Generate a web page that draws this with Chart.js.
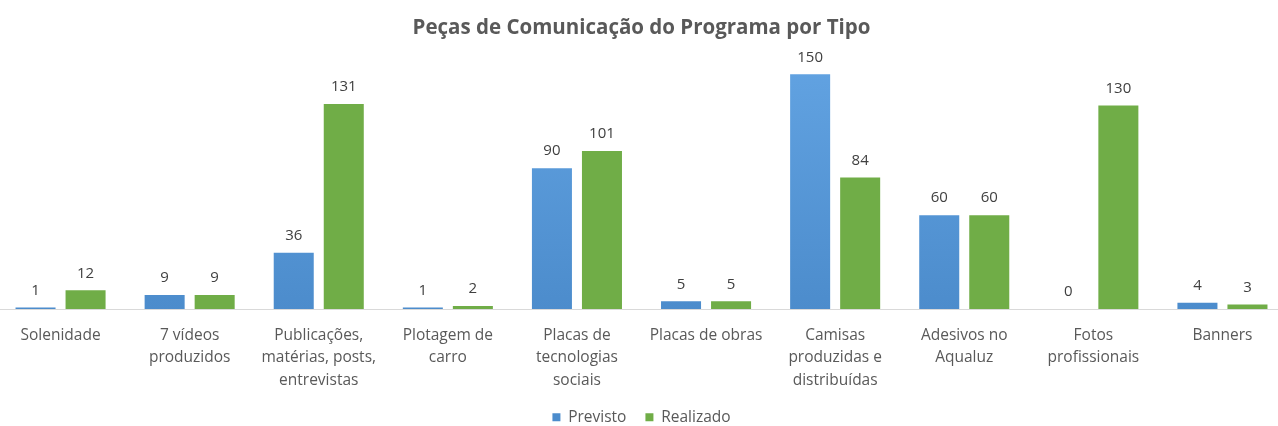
<!DOCTYPE html>
<html>
<head>
<meta charset="utf-8">
<script src="https://cdn.jsdelivr.net/npm/chart.js@4.4.0/dist/chart.umd.min.js"></script>
<style>
  html, body { margin: 0; padding: 0; background: #ffffff; overflow: hidden; }
  #wrap { position: absolute; left: -4px; top: 0; width: 1291px; height: 426px; }
</style>
</head>
<body>
<div id="wrap"><canvas id="chart"></canvas></div>
<script>
const categories = [
  ['Solenidade'],
  ['7 vídeos', 'produzidos'],
  ['Publicações,', 'matérias, posts,', 'entrevistas'],
  ['Plotagem de', 'carro'],
  ['Placas de', 'tecnologias', 'sociais'],
  ['Placas de obras'],
  ['Camisas', 'produzidas e', 'distribuídas'],
  ['Adesivos no', 'Aqualuz'],
  ['Fotos', 'profissionais'],
  ['Banners']
];
const previsto = [1, 9, 36, 1, 90, 5, 150, 60, 0, 4];
const realizado = [12, 9, 131, 2, 101, 5, 84, 60, 130, 3];

const FONT = "'Open Sans', 'Noto Sans', sans-serif";

// Value labels drawn above each bar
const valueLabels = {
  id: 'valueLabels',
  afterDatasetsDraw(chart) {
    const ctx = chart.ctx;
    ctx.save();
    ctx.font = '15px ' + FONT;
    ctx.fillStyle = '#404040';
    ctx.textAlign = 'center';
    ctx.textBaseline = 'middle';
    chart.data.datasets.forEach((ds, i) => {
      chart.getDatasetMeta(i).data.forEach((bar, j) => {
        ctx.fillText(String(ds.data[j]), bar.x, bar.y - 17);
      });
    });
    ctx.restore();
  }
};

function blueFill(context) {
  const chart = context.chart;
  const area = chart.chartArea;
  if (!area) return '#5B9BD5';
  const g = chart.ctx.createLinearGradient(0, area.top, 0, area.bottom);
  g.addColorStop(0, '#62a3e2');
  g.addColorStop(1, '#4c8ccc');
  return g;
}

new Chart(document.getElementById('chart'), {
  type: 'bar',
  data: {
    labels: categories,
    datasets: [
      { label: 'Previsto', data: previsto, backgroundColor: blueFill,
        barPercentage: 0.8, categoryPercentage: 0.775 },
      { label: 'Realizado', data: realizado, backgroundColor: '#70AD47',
        barPercentage: 0.8, categoryPercentage: 0.775 }
    ]
  },
  options: {
    responsive: true,
    maintainAspectRatio: false,
    animation: false,
    layout: { padding: { top: 16, bottom: -9, left: 0, right: 0 } },
    plugins: {
      title: {
        display: true,
        text: 'Peças de Comunicação do Programa por Tipo',
        color: '#595959',
        font: { family: FONT, size: 20.5, weight: 'bold' },
        padding: { top: 0, bottom: 18 }
      },
      legend: {
        position: 'bottom',
        labels: {
          color: '#595959',
          font: { family: FONT, size: 15.5 },
          boxWidth: 8, boxHeight: 8,
          padding: 19
        }
      },
      tooltip: { enabled: false }
    },
    scales: {
      x: {
        grid: { display: false, drawTicks: false },
        border: { display: true, color: '#d9d9d9', width: 1 },
        ticks: {
          color: '#595959',
          font: { family: FONT, size: 15.5, lineHeight: 1.45 },
          maxRotation: 0, autoSkip: false, padding: 15
        },
        afterFit(scale) { scale.height -= 16; }
      },
      y: {
        display: false,
        min: 0, max: 160
      }
    }
  },
  plugins: [valueLabels]
});
</script>
</body>
</html>
